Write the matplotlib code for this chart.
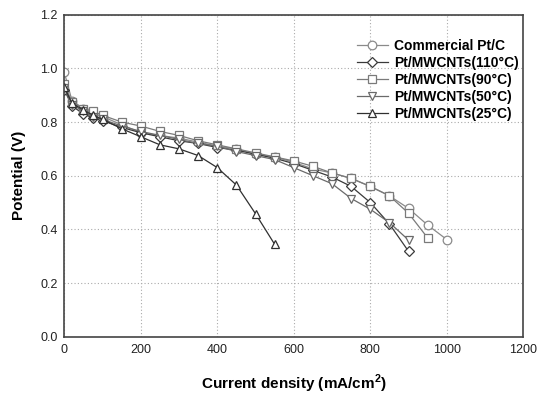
import matplotlib
matplotlib.use("Agg")
import matplotlib.pyplot as plt

plt.rcParams['font.family'] = ['Liberation Sans', 'DejaVu Sans']
plt.rcParams['mathtext.fontset'] = 'custom'
plt.rcParams['mathtext.rm'] = 'Liberation Sans'
plt.rcParams['mathtext.bf'] = 'Liberation Sans:bold'

x_pt = [0, 20, 50, 75, 100, 150, 200, 250, 300, 350, 400, 450, 500, 550, 600, 650, 700, 750, 800, 850, 900, 950, 1000]
y_pt = [0.985, 0.88, 0.85, 0.83, 0.82, 0.79, 0.76, 0.75, 0.74, 0.725, 0.71, 0.70, 0.68, 0.67, 0.65, 0.625, 0.61, 0.59, 0.56, 0.525, 0.478, 0.416, 0.362]

x_110 = [0, 20, 50, 75, 100, 150, 200, 250, 300, 350, 400, 450, 500, 550, 600, 650, 700, 750, 800, 850, 900]
y_110 = [0.92, 0.86, 0.83, 0.815, 0.805, 0.78, 0.76, 0.745, 0.73, 0.72, 0.705, 0.695, 0.68, 0.665, 0.645, 0.62, 0.595, 0.56, 0.50, 0.42, 0.318]

x_90 = [0, 20, 50, 75, 100, 150, 200, 250, 300, 350, 400, 450, 500, 550, 600, 650, 700, 750, 800, 850, 900, 950]
y_90 = [0.94, 0.875, 0.85, 0.84, 0.825, 0.80, 0.785, 0.765, 0.75, 0.73, 0.715, 0.70, 0.685, 0.67, 0.655, 0.635, 0.61, 0.59, 0.56, 0.525, 0.46, 0.368]

x_50 = [0, 20, 50, 75, 100, 150, 200, 250, 300, 350, 400, 450, 500, 550, 600, 650, 700, 750, 800, 850, 900]
y_50 = [0.925, 0.865, 0.84, 0.82, 0.81, 0.785, 0.765, 0.75, 0.735, 0.72, 0.71, 0.69, 0.675, 0.66, 0.63, 0.60, 0.57, 0.515, 0.475, 0.425, 0.36]

x_25 = [0, 20, 50, 75, 100, 150, 200, 250, 300, 350, 400, 450, 500, 550]
y_25 = [0.93, 0.87, 0.845, 0.825, 0.81, 0.775, 0.745, 0.715, 0.70, 0.675, 0.63, 0.565, 0.458, 0.344]

labels = ['Commercial Pt/C',
          'Pt/MWCNTs(110\u00b0C)',
          'Pt/MWCNTs(90\u00b0C)',
          'Pt/MWCNTs(50\u00b0C)',
          'Pt/MWCNTs(25\u00b0C)']

fig = plt.figure(figsize=(5.41, 3.95), dpi=100)
ax = fig.add_axes([0.1189, 0.1476, 0.8484, 0.8152])

series = [
    (x_pt, y_pt, 'o', '#8a8a8a', 6.2),
    (x_110, y_110, 'D', '#3a3a3a', 5.6),
    (x_90, y_90, 's', '#7a7a7a', 5.4),
    (x_50, y_50, 'v', '#6a6a6a', 6.4),
    (x_25, y_25, '^', '#303030', 6.4),
]
for (xs, ys, m, c, ms), lab in zip(series, labels):
    ax.plot(xs, ys, marker=m, color=c, markerfacecolor='white', markeredgecolor=c,
            markersize=ms, linewidth=0.9, markeredgewidth=0.9, label=lab)

ax.set_xlim(0, 1200)
ax.set_ylim(0, 1.2)
ax.set_xticks([0, 200, 400, 600, 800, 1000, 1200])
ax.set_yticks([0.0, 0.2, 0.4, 0.6, 0.8, 1.0, 1.2])
ax.set_yticklabels(['0.0', '0.2', '0.4', '0.6', '0.8', '1.0', '1.2'])
ax.grid(True, linestyle=(0, (1, 2)), color='#aaaaaa', linewidth=0.8)
ax.set_axisbelow(True)
for s in ax.spines.values():
    s.set_color('#444444')
    s.set_linewidth(1.2)
ax.tick_params(length=0, labelsize=9, colors='#222222', pad=5)

ax.set_xlabel(r'Current density (mA/cm$^{\mathbf{2}}$)', fontsize=11, fontweight='bold', labelpad=12)
ax.set_ylabel('Potential (V)', fontsize=11, fontweight='bold', labelpad=10)

leg = ax.legend(loc='upper left', bbox_to_anchor=(0.638, 0.924), frameon=False,
                prop={'weight': 'bold', 'size': 10}, handlelength=2.2,
                labelspacing=0.21, handletextpad=0.45, borderaxespad=0.0,
                borderpad=0.0)

fig.savefig('out.png', dpi=100)
